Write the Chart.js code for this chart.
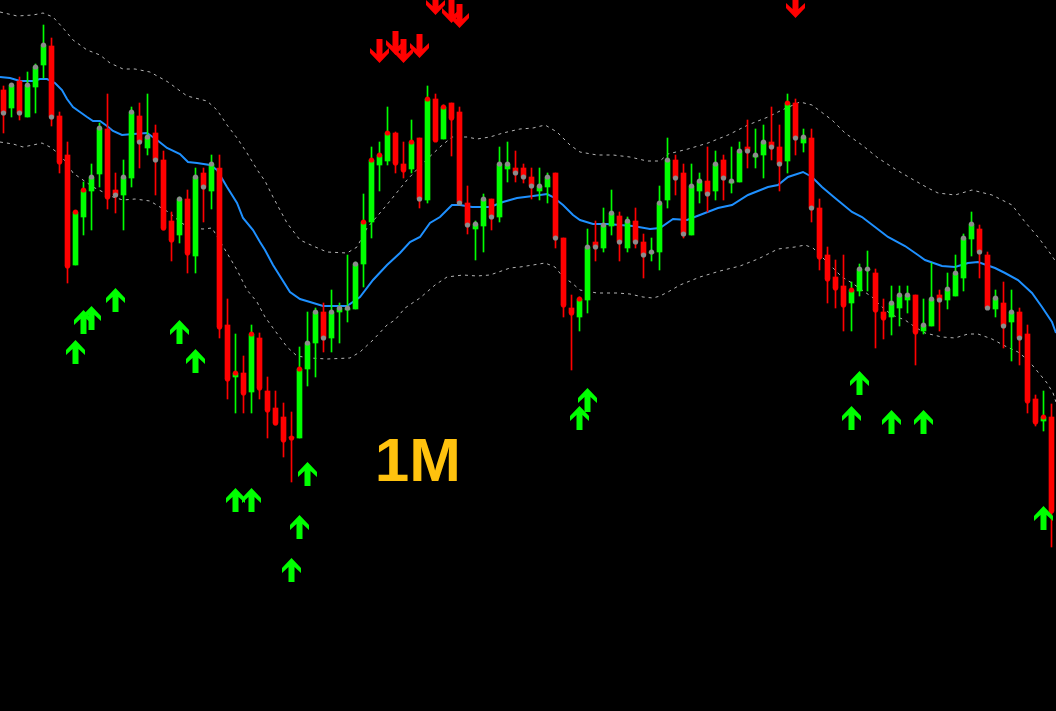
<!DOCTYPE html>
<html>
<head>
<meta charset="utf-8">
<script src="https://cdn.jsdelivr.net/npm/chart.js@4/dist/chart.umd.min.js"></script>
<style>
  html, body { margin: 0; padding: 0; background: #000; }
  canvas { display: block; background: #000; }
</style>
</head>
<body>
<canvas id="chart" width="1056" height="711"></canvas>
<script>
// price levels (axis runs top-down, like the screen)
const opens = [
  90,108,81,117,87,65,46,116,155,265,
  217,191,174,129,190,195,178,116,148,133,
  160,221,235,199,256,173,191,168,325,377,
  373,392,338,391,408,417,437,438,369,343,
  312,338,312,310,309,264,222,165,161,133,
  164,169,138,200,99,139,103,112,203,229,
  226,199,217,169,168,168,177,191,187,173,
  238,308,317,300,242,248,226,216,248,221,
  242,253,252,200,160,173,235,191,181,191,
  160,183,182,147,157,155,142,147,161,103,
  143,138,208,255,277,286,303,291,270,273,
  312,317,308,300,295,331,326,295,300,296,
  278,239,229,255,309,303,322,312,334,399,
  421,417
];
const highs = [
  86,84,77,72,64,25,38,112,142,211,
  182,164,123,94,173,160,107,103,94,125,
  151,212,197,190,168,168,155,155,299,334,
  356,325,333,377,391,403,412,347,312,308,
  303,290,303,255,262,194,147,142,107,132,
  142,120,138,86,94,105,103,107,186,221,
  194,199,147,142,151,164,168,168,173,173,
  238,295,297,229,221,208,190,212,217,208,
  234,238,186,138,155,164,164,173,147,151,
  155,147,142,120,129,125,107,125,94,99,
  129,129,199,247,260,255,282,264,251,269,
  299,286,286,286,295,299,263,290,273,255,
  234,212,225,252,290,282,290,308,325,395,
  391,404
];
const lows = [
  133,117,120,117,113,78,126,173,283,265,
  235,230,187,209,213,230,187,168,155,195,
  230,261,243,273,273,222,209,338,399,413,
  413,413,399,438,425,457,482,438,386,377,
  352,352,343,322,309,287,238,191,165,173,
  178,173,208,203,141,139,156,203,234,260,
  252,230,222,182,182,183,199,200,203,248,
  317,370,331,313,261,252,235,261,252,248,
  278,261,270,208,195,238,235,203,212,200,
  200,193,182,168,168,178,160,191,173,155,
  152,222,270,303,308,331,331,296,291,348,
  339,335,326,313,365,334,326,331,309,296,
  291,256,278,308,317,348,361,365,413,426,
  431,547
];
const closes = [
  113,85,113,85,67,45,117,162,266,212,
  190,177,128,197,195,177,112,142,137,160,
  228,240,199,253,177,187,164,327,379,373,
  393,334,388,410,423,440,438,369,343,312,
  338,312,308,308,264,222,160,155,133,163,
  170,142,199,99,140,107,118,203,225,224,
  199,217,164,164,173,177,186,186,177,238,
  305,313,299,247,247,225,213,242,221,242,
  255,252,203,160,178,234,186,181,194,164,
  178,181,151,151,155,142,147,164,103,138,
  137,208,257,279,288,305,290,269,269,310,
  318,303,295,295,332,325,299,300,289,273,
  238,224,252,308,298,326,312,338,401,422,
  417,511
];
// candles whose close marker is red (close outside the bands)
const redMarks = [7,8,9,10,13,20,21,23,27,28,29,30,31,32,33,34,35,36,37,45,46,47,48,49,50,51,53,54,55,56,70,71,72,98,102,103,104,105,106,109,110,114,128,129,130,131];

// moving average and bands: [bar index, level]
const maLine = [
  [-0.44,77],[0.81,78],[2.06,81],[3.69,81],[4.56,79],[5.44,79],[6.44,83],[7.31,90],[7.94,99],[8.69,107],
  [9.56,112],[10.44,117],[11.19,121],[12.06,121],[12.94,126],[13.69,131],[14.81,135],[16.19,134],[17.94,133],[19.19,140],
  [20.44,148],[22.06,154],[23.06,162],[24.19,163],[25.81,165],[26.69,170],[27.94,187],[29.19,203],[29.94,218],[31.19,230],
  [32.06,242],[32.69,250],[33.69,265],[35.81,292],[37.06,299],[38.31,302],[39.94,306],[42.94,306],[44.56,297],[46.19,280],
  [47.94,265],[49.56,253],[50.81,242],[52.06,237],[53.31,223],[54.56,217],[56.06,205],[57.06,205],[58.56,207],[60.81,207],
  [62.44,202],[64.19,198],[66.19,196],[67.94,194],[68.69,197],[69.94,205],[71.19,215],[72.06,220],[73.69,224],[75.44,224],
  [78.69,226],[80.81,229],[82.06,228],[83.69,219],[85.44,220],[87.69,213],[89.31,208],[91.06,205],[93.06,195],[95.56,187],
  [96.81,185],[98.06,177],[99.94,172],[101.06,177],[102.31,187],[103.94,198],[106.06,212],[107.31,217],[108.94,227],[110.56,237],
  [112.69,246],[114.31,255],[115.19,260],[117.31,266],[118.94,267],[120.56,263],[121.81,262],[123.94,268],[125.19,273],[126.81,280],
  [128.56,293],[129.81,307],[131.06,322],[131.56,333]
];
const upperBand = [
  [-0.44,12],[1.69,16],[3.69,15],[4.94,13],[6.19,17],[7.44,28],[8.69,40],[10.44,50],[12.06,55],[13.31,63],
  [14.94,69],[16.44,69],[18.31,72],[20.56,82],[22.94,96],[25.44,101],[26.69,110],[27.94,125],[29.19,138],[30.44,153],
  [31.81,171],[32.69,181],[33.69,197],[35.44,223],[37.06,240],[38.69,246],[40.44,252],[42.94,253],[44.19,247],[45.44,228],
  [47.06,213],[48.31,201],[50.44,180],[52.44,163],[54.56,147],[56.06,137],[57.94,137],[59.19,139],[60.81,137],[62.44,133],
  [64.56,129],[66.19,128],[67.69,125],[69.19,132],[70.81,145],[72.06,152],[74.19,155],[76.19,155],[78.31,157],[80.44,161],
  [82.06,161],[83.06,154],[85.56,149],[88.06,143],[90.56,135],[93.06,125],[95.56,117],[97.31,110],[99.56,102],[101.06,105],
  [103.56,120],[105.19,133],[107.31,145],[109.31,158],[111.44,169],[113.56,179],[115.56,188],[116.81,193],[118.94,195],[121.06,190],
  [123.56,195],[126.06,205],[127.69,222],[129.31,237],[130.81,253],[131.56,262]
];
const lowerBand = [
  [-0.44,142],[1.19,144],[2.44,147],[3.69,145],[4.81,143],[5.81,147],[6.81,153],[7.94,163],[8.69,173],[9.94,180],
  [11.19,187],[12.44,192],[13.69,197],[14.94,200],[16.44,199],[18.31,201],[19.56,207],[20.81,213],[22.06,222],[23.31,228],
  [24.94,229],[26.06,228],[26.81,238],[27.94,253],[29.19,270],[30.44,290],[31.69,302],[32.69,317],[33.69,328],[35.44,347],
  [36.69,356],[38.31,358],[40.44,359],[43.31,358],[44.56,352],[46.19,340],[47.94,325],[48.94,320],[50.19,308],[52.06,298],
  [53.94,285],[55.44,277],[57.44,275],[59.19,276],[60.81,275],[63.31,268],[64.56,267],[66.19,265],[67.69,263],[68.94,267],
  [69.94,277],[71.06,283],[72.06,290],[74.19,293],[76.69,293],[78.31,294],[79.94,297],[81.19,298],[82.06,296],[83.06,292],
  [84.56,285],[87.06,277],[89.56,271],[92.06,266],[94.31,259],[96.81,249],[98.94,247],[100.19,245],[101.19,248],[102.44,258],
  [103.56,267],[104.81,277],[106.06,283],[107.31,290],[108.56,297],[109.81,307],[111.06,315],[112.69,320],[113.94,327],[115.19,333],
  [117.31,337],[118.94,338],[120.56,334],[121.81,334],[123.56,339],[125.19,346],[126.81,352],[128.06,360],[129.31,372],[130.44,383],
  [131.19,393],[131.56,402]
];

// signal arrows: [bar index, level of arrow centre]
const buyArrows = [[9,352],[10,322],[11,318],[14,300],[22,332],[24,361],[29,500],[31,500],[36,570],[37,527],[38,474],[72,418],[73,400],[106,418],[107,383],[111,422],[115,422],[130,518]];
const sellArrows = [[47,51],[49,43],[50,51],[52,46],[54,3],[56,11],[57,16],[99,6]];

const tfLabel = '1M';
const tfAnchor = [51.8, 481];

const GREEN = '#00ff00';
const RED = '#ff0000';
const idx = opens.map((_, i) => i);
const candleColors = idx.map(i => closes[i] < opens[i] ? GREEN : RED);
const markColors = idx.map(i => redMarks.includes(i) ? RED : '#8c8c8c');

// thick arrow glyph, tip at top (or bottom when down)
function arrowImage(color, down) {
  const c = document.createElement('canvas');
  c.width = 19; c.height = 24;
  const g = c.getContext('2d');
  const pts = [[9.5,0],[19,10],[19,15],[12.5,9],[12.5,24],[6.5,24],[6.5,9],[0,15],[0,10]];
  g.fillStyle = color;
  g.beginPath();
  pts.forEach(([px, py], k) => {
    const yy = down ? 24 - py : py;
    if (k) g.lineTo(px, yy); else g.moveTo(px, yy);
  });
  g.closePath();
  g.fill();
  return c;
}

const labelPlugin = {
  id: 'tfLabel',
  afterDatasetsDraw(chart) {
    const { ctx, scales } = chart;
    ctx.save();
    ctx.font = 'bold 62px "Liberation Sans", Arial, sans-serif';
    ctx.fillStyle = '#ffc20e';
    ctx.textAlign = 'center';
    ctx.textBaseline = 'alphabetic';
    ctx.fillText(tfLabel, scales.x.getPixelForValue(tfAnchor[0]), scales.y.getPixelForValue(tfAnchor[1]));
    ctx.restore();
  }
};

const toXY = arr => arr.map(p => ({ x: p[0], y: p[1] }));

new Chart(document.getElementById('chart'), {
  type: 'bar',
  data: {
    datasets: [
      {
        type: 'line', label: 'upper', data: toXY(upperBand), order: 5,
        borderColor: '#b4b4b4', borderWidth: 1, borderDash: [3, 4], pointRadius: 0, tension: 0
      },
      {
        type: 'line', label: 'lower', data: toXY(lowerBand), order: 5,
        borderColor: '#b4b4b4', borderWidth: 1, borderDash: [3, 4], pointRadius: 0, tension: 0
      },
      {
        type: 'line', label: 'ma', data: toXY(maLine), order: 4,
        borderColor: '#1e90ff', borderWidth: 2, pointRadius: 0, tension: 0
      },
      {
        label: 'wicks', order: 3, grouped: false,
        data: idx.map(i => ({ x: i, y: [highs[i], lows[i]] })),
        backgroundColor: candleColors, borderWidth: 0, barThickness: 1
      },
      {
        label: 'bodies', order: 2, grouped: false,
        data: idx.map(i => ({ x: i, y: [opens[i], closes[i]] })),
        backgroundColor: candleColors, borderWidth: 0, barThickness: 5, minBarLength: 1
      },
      {
        type: 'scatter', label: 'close', order: 1,
        data: idx.map(i => ({ x: i, y: closes[i] })),
        pointRadius: 2.6, pointBackgroundColor: markColors, pointBorderWidth: 0
      },
      {
        type: 'scatter', label: 'buy', order: 0,
        data: toXY(buyArrows),
        pointStyle: arrowImage('#00ff00', false), pointRadius: 10
      },
      {
        type: 'scatter', label: 'sell', order: 0,
        data: toXY(sellArrows),
        pointStyle: arrowImage('#ff0000', true), pointRadius: 10
      }
    ]
  },
  options: {
    responsive: false,
    animation: false,
    devicePixelRatio: 1,
    layout: { padding: 0, autoPadding: false },
    plugins: { legend: { display: false }, tooltip: { enabled: false } },
    scales: {
      x: { type: 'linear', min: -0.4375, max: 131.5625, offset: false, display: false, grid: { display: false } },
      y: { type: 'linear', min: 0, max: 711, reverse: true, display: false, grid: { display: false } }
    }
  },
  plugins: [labelPlugin]
});
</script>
</body>
</html>
